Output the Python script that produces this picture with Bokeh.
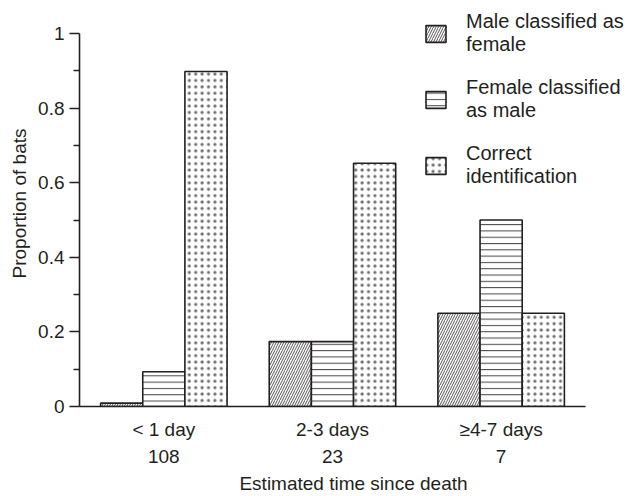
import numpy as np
from bokeh.plotting import figure
from bokeh.models import Range1d, ColumnDataSource, Legend, LegendItem, LinearAxis, FixedTicker
from bokeh.embed import file_html
from bokeh.resources import INLINE

categories = ["< 1 day", "2-3 days", "\u22654-7 days"]
counts = ["108", "23", "7"]
male_as_female = [0.009, 0.174, 0.25]
female_as_male = [0.093, 0.174, 0.50]
correct = [0.898, 0.652, 0.25]
series_names = ["Male classified as\nfemale", "Female classified\nas male", "Correct\nidentification"]

INK = "#231f20"
FONT = "Liberation Sans"
FS = "19px"

centers = np.arange(len(categories)) + 0.5
BW = 0.25
src = ColumnDataSource(dict(xm=centers - BW, xf=centers, xc=centers + BW,
                            m=male_as_female, f=female_as_male, c=correct))

# frame reaches the right edge and the top of the canvas so the legend is not clipped;
# axis bounds keep the axis lines on [0, 3] x [0, 1]
p = figure(width=627, height=496, output_backend="svg", toolbar_location=None,
           x_range=Range1d(0, 3 + 42 / 168.5), y_range=Range1d(0, 1 + 33 / 373),
           min_border_left=79, min_border_right=0, min_border_top=0, min_border_bottom=90)
p.outline_line_color = None
p.xgrid.grid_line_color = None
p.ygrid.grid_line_color = None
p.xaxis.visible = False

bar = dict(width=BW, source=src, fill_color="white", line_color=INK, line_width=1.6, hatch_color=INK)
r1 = p.vbar(x="xm", top="m", hatch_pattern="right_diagonal_line", hatch_scale=5,
            hatch_weight=0.9, hatch_alpha=0.85, **bar)
r2 = p.vbar(x="xf", top="f", hatch_pattern="horizontal_line", hatch_scale=6.3,
            hatch_weight=1.0, hatch_alpha=0.85, **bar)
r3 = p.vbar(x="xc", top="c", hatch_pattern="dot", hatch_scale=6.4,
            hatch_weight=0.75, hatch_alpha=0.65, **bar)

def cat_axis(labels, line, standoff):
    ax = LinearAxis(ticker=FixedTicker(ticks=list(centers)), bounds=(0, 3))
    ax.major_label_overrides = {float(c): l for c, l in zip(centers, labels)}
    ax.axis_line_color = INK if line else None
    ax.axis_line_width = 1.6
    ax.major_tick_line_color = None
    ax.minor_tick_line_color = None
    ax.major_tick_out = 0
    ax.major_tick_in = 0
    ax.minor_tick_out = 0
    ax.minor_tick_in = 0
    ax.major_label_standoff = standoff
    ax.major_label_text_font = FONT
    ax.major_label_text_font_size = FS
    ax.major_label_text_color = INK
    return ax

xa = cat_axis(categories, True, 12)
p.add_layout(xa, "below")
xn = cat_axis(counts, False, 7)
xn.axis_label = "Estimated time since death"
xn.axis_label_text_font = FONT
xn.axis_label_text_font_size = FS
xn.axis_label_text_font_style = "normal"
xn.axis_label_text_color = INK
xn.axis_label_standoff = 7
p.add_layout(xn, "below")

p.yaxis.bounds = (0, 1)
p.yaxis.ticker = [0, 0.2, 0.4, 0.6, 0.8, 1]
p.yaxis.ticker.minor_ticks = [0.1, 0.3, 0.5, 0.7, 0.9]
p.yaxis.major_label_overrides = {0: "0", 1: "1"}
p.yaxis.major_tick_out = 10
p.yaxis.major_tick_in = 0
p.yaxis.minor_tick_out = 6
p.yaxis.minor_tick_in = 0
p.yaxis.major_tick_line_color = INK
p.yaxis.minor_tick_line_color = INK
p.yaxis.major_tick_line_width = 1.6
p.yaxis.minor_tick_line_width = 1.6
p.yaxis.axis_line_color = INK
p.yaxis.axis_line_width = 1.6
p.yaxis.major_label_standoff = 5
p.yaxis.major_label_text_font = FONT
p.yaxis.major_label_text_font_size = FS
p.yaxis.major_label_text_color = INK
p.yaxis.axis_label = "Proportion of bats"
p.yaxis.axis_label_text_font = FONT
p.yaxis.axis_label_text_font_size = FS
p.yaxis.axis_label_text_font_style = "normal"
p.yaxis.axis_label_text_color = INK
p.yaxis.axis_label_standoff = 5

legend = Legend(items=[LegendItem(label=series_names[0], renderers=[r1]),
                       LegendItem(label=series_names[1], renderers=[r2]),
                       LegendItem(label=series_names[2], renderers=[r3])],
                location=(344, 218), orientation="vertical",
                glyph_width=25, glyph_height=21, spacing=20, padding=0, margin=0,
                label_text_font=FONT, label_text_font_size="20px", label_text_color=INK,
                label_standoff=18, border_line_color=None, background_fill_alpha=0)
p.add_layout(legend, "center")

open("out.html", "w").write(file_html(p, INLINE))
